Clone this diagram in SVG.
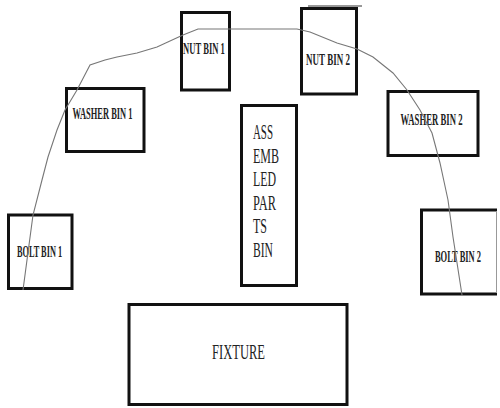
<svg xmlns="http://www.w3.org/2000/svg" width="500" height="408" viewBox="0 0 500 408">
<style>
.box{fill:#fff;stroke:#111;stroke-width:3}
.lbl{font-family:"Liberation Serif","Times New Roman",serif;font-weight:bold;font-size:16px;fill:#222;text-anchor:middle}
.big{font-family:"Liberation Serif","Times New Roman",serif;font-size:21px;fill:#222}
.curve{fill:none;stroke:#777;stroke-width:1.1}
</style>
<rect width="500" height="408" fill="#fff"/>
<g id="nut-bin-1"><rect class="box" x="181.5" y="12.5" width="48" height="77.5"/><text class="lbl" transform="translate(204 54) scale(0.537 1)">NUT BIN 1</text></g>
<g id="nut-bin-2"><rect class="box" x="301.5" y="8.5" width="55" height="85.5"/><text class="lbl" transform="translate(328 65) scale(0.563 1)">NUT BIN 2</text></g>
<g id="washer-bin-1"><rect class="box" x="66.5" y="88.5" width="77.5" height="63"/><text class="lbl" transform="translate(102.5 119) scale(0.528 1)">WASHER BIN 1</text></g>
<g id="washer-bin-2"><rect class="box" x="388" y="91.5" width="90" height="64"/><text class="lbl" transform="translate(431.5 125) scale(0.545 1)">WASHER BIN 2</text></g>
<g id="bolt-bin-1"><rect class="box" x="8.5" y="215" width="63.5" height="73.5"/><text class="lbl" transform="translate(39.5 257) scale(0.519 1)">BOLT BIN 1</text></g>
<g id="bolt-bin-2"><rect x="421.5" y="210" width="75.5" height="84" fill="#fff"/><path d="M497 210 H421.5 V294 H497" fill="none" stroke="#111" stroke-width="3"/><path d="M496.5 211 V293" stroke="#999" stroke-width="1"/><text class="lbl" transform="translate(458 262) scale(0.53 1)">BOLT BIN 2</text></g>
<g id="assembled-parts-bin"><rect class="box" x="241.5" y="105.5" width="55" height="180"/>
<text class="big" x="253" y="139" textLength="20" lengthAdjust="spacingAndGlyphs">ASS</text>
<text class="big" x="253" y="163" textLength="26" lengthAdjust="spacingAndGlyphs">EMB</text>
<text class="big" x="253" y="186" textLength="23" lengthAdjust="spacingAndGlyphs">LED</text>
<text class="big" x="253" y="210" textLength="23" lengthAdjust="spacingAndGlyphs">PAR</text>
<text class="big" x="253" y="233" textLength="14" lengthAdjust="spacingAndGlyphs">TS</text>
<text class="big" x="253" y="257" textLength="20" lengthAdjust="spacingAndGlyphs">BIN</text></g>
<g id="fixture"><rect class="box" x="129" y="304.5" width="218" height="100"/><text class="big" x="212" y="359" textLength="53" lengthAdjust="spacingAndGlyphs">FIXTURE</text></g>
<g id="connectors">
<path class="curve" d="M23 290 L33 215 L42 180 L48 157 L57 130 L65 110 L77 90 L90 65 L105 60 L117 57 L137 53 L157 47 L183 35 L198 29 L297 29 L310 32 L337 43 L357 49 L373 57 L393 73 L407 90 L420 110 L432 133 L440 163 L448 200 L453 237 L462 295"/>
<path d="M308 6 H362" stroke="#333" stroke-width="1"/>
</g>
</svg>
